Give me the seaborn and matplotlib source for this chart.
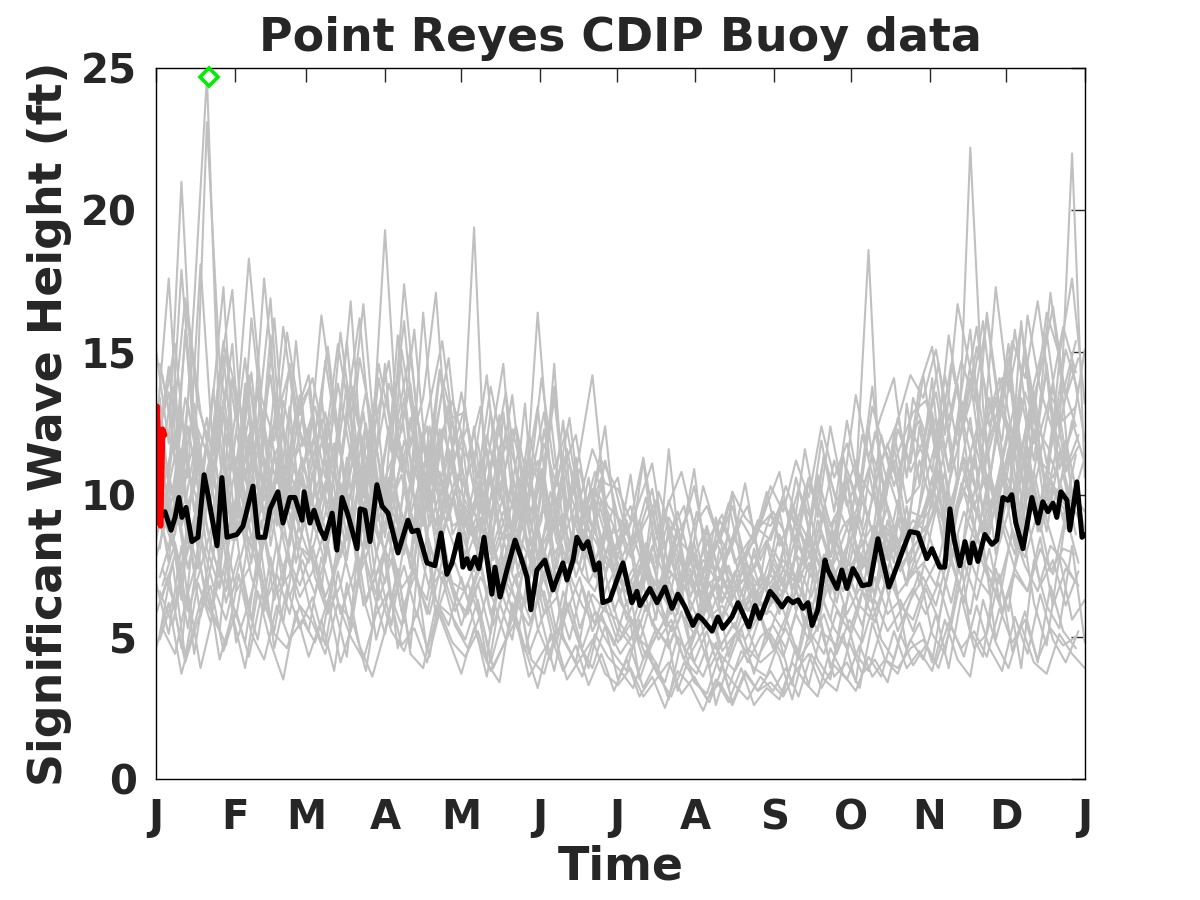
"""
Point Reyes CDIP buoy – significant wave height, all years overlaid
"""

import numpy as np
import pandas as pd
import matplotlib
matplotlib.use("Agg")
import matplotlib.pyplot as plt
import seaborn as sns

# ── Data ───────────────────────────────────────────────────
# gray traces: one per year, sampled every 5 days
# set A starts on day 0, set B on day 2.5, set C on day 1.5
year_01 = [11.2, 14.5, 9.8, 16.8, 24.7, 12.1, 8.4, 13.9, 10.2, 15.6, 9.1, 12.8,
           14.2, 10.5, 8.7, 13.1, 16.2, 11.4, 9.3, 12.7, 15.1, 10.8, 8.9, 11.6,
           9.2, 12.4, 8.1, 10.7, 13.5, 9.4, 7.2, 10.1, 8.6, 11.3, 7.9, 9.8,
           7.4, 8.9, 6.2, 9.6, 7.1, 5.8, 8.3, 6.6, 9.2, 7.0, 5.9, 8.1,
           6.8, 9.4, 7.3, 10.2, 8.1, 6.5, 11.4, 8.8, 12.3, 9.1, 7.6, 13.2,
           10.4, 14.1, 9.2, 12.7, 15.8, 10.9, 13.4, 9.6, 16.1, 11.8, 14.3, 10.2,
           12.6, 11.1]
year_02 = [5.8, 7.2, 4.6, 8.9, 6.1, 5.2, 9.7, 6.4, 4.9, 7.8, 5.5, 8.3,
           6.2, 4.8, 7.5, 10.1, 6.8, 5.3, 8.2, 4.6, 6.9, 9.4, 5.7, 7.1,
           5.4, 6.8, 4.2, 7.6, 5.9, 4.5, 6.3, 8.1, 5.0, 4.1, 6.6, 5.2,
           4.4, 3.8, 5.6, 4.1, 3.4, 5.0, 4.3, 3.6, 4.8, 3.2, 4.5, 3.9,
           3.6, 4.9, 3.3, 5.7, 4.2, 3.5, 6.1, 4.4, 3.8, 5.3, 7.2, 4.6,
           5.5, 4.1, 6.8, 8.6, 5.2, 4.3, 7.4, 5.9, 9.1, 6.2, 4.7, 7.8,
           5.6, 6.3]
year_03 = [8.4, 10.6, 17.9, 12.3, 8.8, 7.1, 11.5, 9.3, 13.8, 8.2, 10.9, 7.6,
           9.8, 12.6, 8.1, 11.3, 7.4, 10.2, 14.6, 9.1, 7.8, 11.9, 8.6, 10.4,
           12.2, 8.3, 9.7, 7.1, 10.8, 8.5, 6.4, 9.2, 12.6, 7.8, 8.9, 6.7,
           8.2, 6.1, 7.5, 5.4, 6.8, 8.7, 5.9, 7.2, 5.1, 6.4, 7.9, 5.6,
           7.1, 5.8, 8.6, 6.3, 5.2, 7.7, 6.6, 9.3, 7.4, 10.8, 8.2, 6.9,
           9.6, 12.8, 8.4, 10.7, 22.2, 13.1, 9.2, 11.6, 8.7, 12.9, 10.1, 14.7,
           9.8, 11.3]
year_04 = [13.2, 9.1, 7.4, 10.8, 23.1, 14.6, 11.2, 8.3, 12.5, 16.9, 10.4, 9.2,
           7.9, 10.7, 13.4, 9.6, 8.2, 11.8, 19.3, 12.1, 9.4, 7.7, 10.6, 13.2,
           8.4, 10.3, 11.6, 8.9, 7.3, 9.8, 16.4, 10.7, 7.6, 9.1, 8.2, 10.4,
           6.9, 7.8, 9.1, 6.3, 7.4, 6.1, 8.2, 5.7, 6.8, 7.5, 6.2, 5.8,
           8.3, 6.4, 7.2, 9.8, 5.9, 8.7, 7.1, 10.3, 18.6, 9.4, 11.2, 8.1,
           12.4, 9.8, 11.5, 13.9, 10.2, 8.6, 12.1, 15.3, 10.8, 13.6, 11.1, 12.8,
           10.1, 9.4]
year_05 = [6.9, 5.1, 8.2, 4.4, 7.3, 10.6, 6.2, 4.8, 7.9, 5.6, 9.1, 6.4,
           5.2, 7.8, 6.1, 4.3, 8.6, 6.7, 5.1, 7.3, 4.6, 9.8, 6.3, 5.4,
           7.1, 5.5, 3.6, 6.2, 4.9, 7.8, 5.3, 4.2, 6.6, 5.1, 3.9, 5.8,
           4.7, 6.3, 3.5, 4.8, 5.6, 3.1, 4.4, 5.2, 2.6, 4.1, 5.3, 3.7,
           5.2, 4.3, 2.8, 4.6, 6.2, 3.9, 5.1, 3.4, 6.8, 4.9, 4.2, 5.9,
           7.3, 5.1, 4.4, 6.9, 5.8, 8.4, 4.9, 6.6, 3.9, 7.7, 6.1, 5.3,
           8.2, 4.8]
year_06 = [15.1, 11.8, 21.0, 12.4, 9.6, 14.3, 17.2, 10.5, 13.7, 11.2, 15.9, 12.6,
           11.4, 16.3, 13.1, 10.2, 14.8, 12.5, 9.9, 15.6, 11.8, 13.4, 17.1, 10.9,
           13.6, 11.1, 14.2, 9.8, 12.3, 10.4, 13.1, 8.7, 10.9, 12.1, 9.3, 11.2,
           10.4, 8.6, 9.8, 11.1, 8.2, 9.4, 7.6, 10.3, 8.8, 7.9, 9.1, 8.3,
           9.6, 10.8, 8.4, 11.6, 9.2, 12.4, 10.1, 13.5, 11.3, 12.8, 14.1, 10.6,
           13.8, 15.2, 12.1, 16.7, 14.4, 11.9, 17.3, 13.6, 15.9, 12.8, 16.4, 14.9,
           17.6, 13.2]
year_07 = [7.8, 9.4, 6.3, 11.2, 8.1, 6.7, 8.9, 12.4, 7.2, 9.6, 6.8, 10.3,
           8.4, 6.6, 10.9, 7.7, 12.2, 8.5, 6.9, 9.8, 7.4, 11.1, 8.2, 7.1,
           9.3, 6.8, 8.1, 11.4, 7.2, 6.1, 8.7, 7.4, 5.6, 9.4, 6.9, 7.8,
           5.9, 7.1, 4.8, 6.4, 5.5, 7.8, 4.6, 5.9, 6.8, 4.3, 5.7, 6.6,
           4.9, 6.1, 7.4, 5.3, 8.2, 6.4, 5.6, 7.9, 6.3, 8.8, 7.1, 9.6,
           6.8, 8.9, 10.8, 7.3, 9.4, 11.6, 7.9, 10.2, 8.4, 12.3, 9.1, 7.6,
           10.8, 8.7]
year_08 = [10.3, 7.6, 12.9, 9.4, 11.7, 8.3, 14.1, 10.6, 8.8, 12.2, 9.7, 15.4,
           10.9, 13.5, 9.2, 12.8, 10.1, 8.6, 11.4, 14.2, 10.3, 8.9, 12.6, 9.5,
           10.8, 19.4, 9.1, 11.7, 8.4, 10.3, 7.7, 9.6, 11.4, 8.2, 10.6, 7.4,
           8.9, 7.2, 6.4, 8.1, 9.3, 6.8, 7.7, 6.1, 8.4, 7.3, 6.5, 7.9,
           6.7, 8.6, 7.4, 6.2, 9.1, 7.8, 10.4, 8.3, 7.2, 9.9, 11.7, 8.8,
           11.2, 9.6, 13.1, 10.4, 12.7, 9.3, 11.8, 14.4, 10.7, 13.2, 9.9, 12.1,
           22.0, 10.6]
year_09 = [4.6, 6.2, 3.7, 5.4, 7.1, 4.2, 5.8, 3.9, 6.6, 4.8, 3.5, 5.9,
           4.3, 5.6, 3.8, 6.9, 4.7, 3.6, 5.2, 7.4, 4.4, 3.9, 6.1, 4.9,
           3.7, 5.3, 4.1, 3.4, 6.2, 4.6, 3.2, 5.1, 3.8, 4.7, 3.3, 4.4,
           3.1, 4.2, 2.9, 3.6, 2.5, 3.8, 3.3, 2.4, 3.5, 2.7, 3.9, 2.6,
           3.2, 2.8, 4.1, 3.4, 2.9, 4.6, 3.7, 3.1, 4.3, 3.6, 5.2, 3.9,
           4.5, 3.8, 5.6, 4.2, 3.6, 6.3, 4.8, 3.9, 5.4, 4.1, 3.7, 5.1,
           4.4, 3.9]
year_10 = [12.1, 17.6, 10.4, 13.2, 9.7, 11.9, 15.3, 9.1, 11.6, 14.2, 10.3, 12.9,
           13.7, 9.9, 11.2, 15.4, 10.6, 12.8, 9.4, 11.7, 13.9, 10.2, 12.4, 14.8,
           10.6, 9.3, 12.1, 10.2, 8.6, 11.3, 9.4, 12.8, 8.9, 10.4, 9.1, 8.2,
           9.6, 7.9, 8.7, 10.2, 7.4, 8.6, 9.5, 7.2, 8.1, 9.7, 7.6, 8.4,
           10.1, 8.2, 9.3, 7.6, 10.7, 8.9, 9.8, 11.2, 9.1, 12.1, 10.3, 11.8,
           12.6, 10.8, 14.2, 11.7, 13.3, 16.1, 12.2, 14.8, 11.4, 13.9, 15.7, 12.3,
           14.6, 11.9]
year_11 = [9.4, 8.1, 11.6, 7.3, 10.2, 13.1, 8.6, 10.9, 7.7, 9.8, 12.3, 8.4,
           7.6, 9.2, 11.8, 8.4, 10.5, 7.1, 9.6, 8.3, 12.7, 9.1, 7.5, 10.8,
           8.7, 7.3, 10.1, 6.8, 8.9, 13.2, 7.6, 6.4, 9.3, 7.1, 8.5, 6.3,
           7.3, 5.6, 6.8, 7.9, 5.4, 6.6, 7.4, 5.2, 6.3, 7.1, 5.8, 6.7,
           5.8, 7.2, 6.1, 8.4, 6.9, 5.6, 7.8, 6.5, 9.2, 7.4, 8.6, 6.8,
           8.3, 10.6, 7.9, 9.8, 11.3, 8.6, 10.2, 12.4, 9.1, 10.8, 8.7, 11.5,
           9.6, 8.8]
year_12 = [11.8, 13.6, 8.9, 10.4, 12.7, 9.3, 11.1, 14.8, 10.2, 8.7, 13.3, 11.4,
           12.3, 8.8, 10.6, 13.9, 9.7, 11.4, 8.5, 12.1, 10.3, 16.4, 11.2, 9.1,
           11.1, 8.6, 10.3, 12.8, 8.1, 9.6, 11.2, 8.4, 10.1, 7.6, 9.3, 10.6,
           7.8, 9.1, 6.7, 8.2, 7.1, 8.9, 6.4, 7.7, 7.3, 8.6, 6.9, 7.5,
           8.4, 7.3, 9.6, 8.1, 10.6, 7.8, 8.9, 9.4, 10.9, 8.6, 12.2, 9.7,
           10.3, 12.9, 9.8, 11.6, 14.1, 10.7, 12.5, 9.6, 13.4, 11.2, 14.6, 10.9,
           12.3, 15.1]
year_13 = [10.8, 8.6, 12.4, 9.9, 13.7, 9.2, 11.5, 8.4, 10.7, 12.9, 9.5, 11.3,
           9.4, 11.8, 8.7, 10.3, 12.5, 9.1, 10.8, 13.4, 8.9, 10.6, 9.7, 12.2,
           8.6, 10.4, 7.9, 9.3, 11.6, 8.2, 9.7, 7.4, 10.1, 8.8, 7.6, 9.2,
           7.1, 6.4, 8.3, 6.9, 5.8, 7.6, 6.5, 8.1, 6.2, 7.3, 5.9, 6.8,
           7.4, 6.6, 8.2, 7.1, 9.4, 7.8, 6.9, 8.6, 10.1, 7.7, 9.2, 8.4,
           9.7, 11.4, 8.8, 10.6, 12.3, 9.4, 11.1, 13.2, 10.2, 9.1, 12.6, 10.8,
           11.7]
year_14 = [6.8, 8.3, 5.9, 7.4, 9.1, 6.2, 7.9, 5.6, 8.7, 6.5, 7.2, 9.6,
           7.1, 5.8, 8.4, 6.6, 7.8, 9.3, 6.1, 7.5, 5.7, 8.2, 6.9, 7.6,
           6.3, 7.7, 5.4, 6.8, 8.5, 5.9, 6.6, 4.8, 7.2, 6.1, 5.5, 6.9,
           5.2, 4.6, 6.1, 4.9, 5.6, 4.2, 5.4, 6.3, 4.5, 5.1, 4.4, 5.8,
           4.6, 5.7, 4.3, 6.2, 5.1, 4.7, 6.6, 5.4, 7.1, 5.8, 6.3, 5.2,
           6.7, 5.6, 7.8, 6.2, 8.6, 7.1, 5.9, 7.4, 9.2, 6.8, 7.7, 6.1,
           7.3]
year_15 = [9.2, 11.4, 8.3, 10.1, 7.8, 12.6, 9.5, 8.1, 10.8, 9.3, 13.1, 8.9,
           10.2, 8.4, 9.7, 11.9, 8.1, 10.4, 9.2, 7.9, 11.3, 9.6, 8.5, 10.1,
           9.1, 7.6, 8.8, 10.2, 7.1, 8.4, 9.5, 6.9, 8.1, 7.3, 9.2, 7.7,
           6.6, 7.4, 5.9, 6.8, 7.7, 6.1, 5.5, 6.9, 7.2, 5.8, 6.4, 7.1,
           6.2, 7.3, 6.8, 5.9, 7.6, 8.3, 6.7, 7.9, 6.4, 8.7, 7.5, 8.1,
           8.9, 7.6, 9.8, 11.2, 8.4, 9.6, 10.7, 8.2, 11.5, 9.3, 10.4, 8.8,
           9.9]
year_16 = [12.7, 15.3, 10.6, 18.1, 11.4, 13.8, 9.9, 16.2, 12.1, 10.4, 14.6, 11.7,
           13.1, 10.8, 15.7, 12.2, 9.8, 14.1, 11.5, 17.4, 12.8, 10.6, 13.7, 11.3,
           12.4, 9.7, 11.2, 13.6, 10.1, 8.9, 12.3, 9.6, 11.1, 8.4, 10.2, 9.4,
           8.3, 9.2, 7.6, 10.1, 8.7, 7.3, 9.4, 8.1, 7.2, 8.8, 9.6, 7.7,
           8.8, 10.3, 9.1, 8.2, 11.4, 9.7, 8.6, 12.1, 10.4, 11.8, 9.9, 13.4,
           12.1, 14.6, 11.3, 13.2, 15.9, 12.4, 14.1, 11.6, 16.3, 13.7, 12.2, 15.1,
           13.6]
year_17 = [5.3, 4.4, 6.6, 3.9, 5.8, 4.7, 7.2, 5.1, 4.2, 6.1, 4.9, 5.6,
           4.8, 6.3, 4.1, 5.5, 3.8, 6.7, 5.2, 4.5, 5.9, 4.3, 7.1, 5.4,
           4.6, 5.8, 3.9, 4.9, 6.4, 4.2, 3.7, 5.3, 4.5, 3.6, 5.1, 4.3,
           3.8, 3.2, 4.5, 3.6, 2.9, 4.1, 3.4, 2.7, 3.9, 3.3, 2.8, 3.6,
           3.1, 3.9, 2.9, 4.4, 3.5, 3.1, 4.8, 3.7, 4.2, 3.4, 5.1, 4.0,
           4.7, 3.9, 5.4, 4.3, 6.1, 4.6, 3.8, 5.7, 4.4, 6.5, 4.9, 4.1,
           5.2]
year_18 = [8.7, 10.2, 7.4, 9.5, 11.8, 8.3, 9.9, 7.6, 12.3, 9.1, 8.2, 10.7,
           8.9, 10.6, 7.8, 9.3, 11.1, 8.5, 7.6, 10.2, 8.7, 12.4, 9.4, 8.1,
           7.9, 9.2, 6.8, 8.6, 7.4, 10.3, 7.7, 6.5, 8.4, 7.2, 6.6, 8.1,
           6.2, 5.5, 7.1, 6.3, 5.2, 6.7, 7.6, 5.7, 6.1, 5.3, 6.9, 5.8,
           6.9, 5.7, 7.5, 6.4, 7.9, 6.2, 8.5, 7.1, 6.6, 9.1, 7.3, 8.2,
           8.6, 10.1, 7.8, 9.4, 8.3, 10.8, 9.2, 7.9, 11.1, 8.7, 10.3, 9.6,
           10.4]
year_19 = [11.3, 9.6, 13.2, 10.4, 8.9, 12.1, 10.7, 14.3, 9.8, 11.6, 10.1, 12.8,
           10.9, 12.7, 9.5, 11.2, 13.6, 10.3, 9.2, 11.9, 10.6, 9.4, 12.3, 10.8,
           10.1, 8.7, 11.4, 9.2, 8.3, 10.6, 12.9, 8.8, 9.7, 8.1, 10.2, 8.6,
           7.7, 8.6, 7.1, 6.5, 8.2, 7.4, 6.8, 7.9, 6.3, 7.2, 8.1, 6.7,
           8.1, 7.2, 8.9, 7.7, 9.6, 8.3, 7.5, 9.8, 8.4, 10.7, 9.3, 8.6,
           10.5, 12.2, 9.6, 11.3, 10.1, 13.4, 11.1, 9.9, 12.7, 11.4, 13.8, 10.9,
           12.1]
year_20 = [7.4, 6.1, 8.8, 5.7, 7.9, 6.6, 9.4, 7.1, 5.9, 8.3, 6.4, 7.7,
           6.5, 8.1, 5.8, 7.2, 9.6, 6.3, 7.7, 5.5, 8.4, 6.7, 7.3, 5.9,
           6.9, 5.6, 7.5, 6.1, 5.2, 7.9, 5.8, 6.4, 4.9, 6.8, 5.4, 6.2,
           4.9, 5.6, 4.3, 5.2, 6.1, 4.6, 5.3, 3.9, 4.8, 5.5, 4.1, 5.0,
           5.4, 4.6, 6.2, 5.1, 4.4, 5.9, 5.2, 6.6, 5.5, 7.2, 6.1, 5.6,
           6.9, 7.8, 6.2, 8.3, 7.1, 6.5, 8.9, 7.4, 6.6, 8.1, 7.2, 9.3,
           7.6]
year_21 = [9.8, 8.7, 10.9, 9.4, 11.7, 8.5, 10.2, 12.4, 9.1, 10.6, 8.8, 11.2,
           9.3, 10.7, 8.6, 11.4, 9.8, 8.4, 10.5, 9.1, 11.8, 8.9, 10.3, 9.6,
           8.4, 9.6, 7.7, 8.9, 10.5, 7.3, 8.6, 9.8, 7.5, 8.3, 7.1, 8.8,
           6.9, 6.2, 7.5, 6.7, 5.9, 7.3, 6.4, 6.9, 5.6, 6.6, 7.2, 6.1,
           6.5, 7.6, 6.9, 8.1, 7.2, 6.6, 8.4, 7.5, 8.9, 7.8, 8.3, 9.1,
           8.7, 9.9, 8.2, 10.6, 9.3, 8.6, 10.9, 9.5, 11.7, 8.9, 10.1, 9.4,
           10.3]
year_22 = [14.2, 11.6, 16.4, 12.9, 10.8, 15.1, 13.3, 11.2, 17.6, 12.7, 14.4, 10.9,
           12.1, 15.2, 11.4, 13.8, 10.7, 14.6, 12.3, 16.1, 11.1, 13.2, 15.4, 11.9,
           11.3, 13.1, 9.8, 12.2, 10.6, 9.4, 11.8, 10.3, 12.7, 9.1, 10.8, 9.6,
           9.1, 8.2, 9.9, 7.8, 8.7, 9.6, 7.4, 8.5, 9.3, 7.6, 8.3, 8.9,
           9.4, 8.6, 10.2, 9.1, 11.3, 9.8, 10.6, 8.9, 12.2, 10.4, 11.7, 12.9,
           13.3, 11.8, 14.6, 12.5, 15.2, 13.1, 11.9, 15.8, 12.6, 14.3, 16.6, 13.4,
           14.8]
year_23 = [6.4, 7.9, 5.3, 8.6, 6.8, 5.6, 7.5, 9.3, 6.1, 7.2, 5.8, 8.1,
           7.6, 5.9, 6.8, 8.9, 6.2, 7.4, 5.4, 8.3, 6.9, 5.8, 7.7, 6.4,
           5.8, 7.1, 6.3, 4.9, 6.7, 5.5, 7.3, 5.1, 6.2, 4.6, 5.9, 5.3,
           4.4, 5.1, 4.7, 3.9, 5.4, 4.2, 3.7, 4.9, 4.3, 3.8, 4.6, 4.1,
           4.5, 5.3, 4.2, 4.9, 5.8, 4.4, 5.6, 4.8, 6.3, 5.2, 5.9, 6.7,
           5.8, 6.9, 5.4, 7.6, 6.3, 8.1, 5.9, 7.2, 6.6, 8.5, 6.1, 7.4,
           6.8]
year_24 = [10.1, 12.2, 9.4, 11.1, 8.6, 10.5, 13.6, 9.7, 11.3, 8.9, 10.8, 9.5,
           11.6, 9.2, 10.4, 8.8, 12.3, 9.9, 11.2, 8.5, 10.1, 11.7, 9.1, 10.5,
           9.6, 8.1, 10.3, 8.7, 9.4, 7.8, 10.6, 8.3, 7.6, 9.1, 8.4, 7.5,
           7.3, 6.6, 7.9, 6.1, 7.2, 6.8, 5.7, 7.4, 6.6, 5.9, 7.1, 6.3,
           7.6, 6.8, 7.2, 8.5, 6.9, 7.8, 9.1, 7.4, 8.2, 9.6, 8.1, 8.8,
           9.5, 10.8, 8.9, 10.1, 11.6, 9.7, 10.4, 12.1, 9.3, 11.2, 10.6, 11.9,
           9.8]
year_25 = [13.4, 8.9, 15.8, 10.2, 12.6, 17.3, 9.8, 14.1, 11.3, 16.2, 10.7, 13.5,
           9.6, 14.7, 11.9, 16.8, 10.4, 13.2, 8.8, 15.1, 12.4, 9.9, 14.3, 11.6,
           13.1, 9.4, 11.8, 14.6, 8.9, 12.2, 10.1, 13.4, 9.3, 11.5, 14.2, 9.8,
           10.6, 8.1, 11.2, 7.6, 9.8, 8.4, 10.9, 7.3, 9.1, 8.2, 10.4, 7.9,
           9.3, 8.1, 10.6, 8.8, 11.9, 9.4, 12.6, 10.2, 13.8, 9.7, 12.3, 11.1,
           14.2, 11.3, 15.6, 12.8, 10.9, 16.4, 13.1, 11.7, 15.2, 12.4, 17.1, 13.6,
           15.4]
year_26 = [5.1, 7.6, 4.3, 6.9, 5.5, 8.4, 4.8, 6.2, 7.9, 4.6, 6.7, 5.3,
           6.4, 4.7, 7.3, 5.2, 8.1, 4.9, 6.6, 5.4, 7.8, 4.5, 6.1, 5.7,
           4.9, 6.3, 4.1, 5.7, 7.2, 4.4, 5.6, 3.8, 6.1, 4.7, 3.9, 5.4,
           3.5, 4.6, 3.2, 4.1, 2.8, 4.9, 3.4, 3.0, 4.4, 2.7, 3.8, 3.1,
           3.8, 3.0, 4.7, 3.3, 5.2, 3.6, 4.1, 3.2, 5.5, 4.2, 3.7, 4.9,
           4.2, 5.8, 3.9, 6.4, 4.6, 5.1, 7.2, 4.5, 5.9, 4.1, 6.8, 5.2,
           4.6]
year_27 = [8.1, 11.7, 9.2, 7.4, 10.6, 12.8, 8.7, 10.1, 7.9, 11.4, 9.6, 8.3,
           10.8, 7.9, 12.1, 9.3, 8.1, 11.6, 9.7, 8.6, 10.9, 12.4, 8.4, 9.9,
           7.8, 10.4, 8.5, 7.1, 9.8, 11.3, 7.6, 9.1, 6.9, 8.7, 10.2, 7.3,
           8.4, 6.2, 7.7, 5.6, 8.9, 6.6, 7.3, 5.9, 8.1, 6.4, 7.5, 5.7,
           6.4, 8.1, 5.9, 7.6, 6.8, 9.2, 7.3, 6.1, 8.4, 7.7, 9.8, 7.1,
           8.1, 10.9, 9.3, 7.8, 11.4, 8.6, 10.1, 12.2, 8.9, 11.6, 9.4, 10.7,
           8.6]
year_28 = [10.9, 13.8, 9.7, 12.3, 11.1, 14.9, 10.3, 12.7, 9.4, 13.6, 11.8, 10.2,
           12.8, 10.6, 13.9, 11.4, 9.9, 12.6, 14.7, 10.8, 12.1, 9.7, 11.9, 13.3,
           11.7, 9.5, 12.9, 10.6, 9.2, 11.4, 10.1, 13.8, 9.6, 10.9, 8.8, 11.2,
           9.2, 7.8, 8.9, 9.8, 7.4, 8.6, 10.3, 7.9, 8.4, 9.6, 7.7, 8.8,
           8.4, 9.7, 8.9, 10.6, 9.3, 8.1, 10.9, 9.6, 11.4, 10.2, 12.7, 10.8,
           11.9, 13.6, 10.8, 12.9, 14.3, 11.6, 13.2, 12.1, 14.8, 11.9, 13.5, 12.6,
           13.1]
year_29 = [6.6, 5.4, 7.7, 9.2, 6.1, 7.3, 5.7, 8.5, 6.9, 5.2, 7.8, 6.4,
           7.3, 8.8, 6.2, 5.6, 7.9, 6.5, 8.7, 5.9, 7.1, 6.3, 9.1, 6.8,
           5.7, 6.9, 5.1, 7.8, 6.2, 5.4, 6.7, 4.7, 5.9, 7.1, 5.2, 6.1,
           4.8, 5.7, 4.2, 5.3, 4.6, 5.9, 4.1, 5.2, 3.8, 4.9, 5.5, 4.3,
           5.1, 4.3, 5.8, 4.9, 6.4, 5.3, 4.6, 6.1, 5.6, 6.9, 5.2, 6.3,
           7.1, 6.1, 7.9, 6.5, 8.4, 7.2, 6.3, 8.8, 7.5, 6.6, 8.2, 7.7,
           6.9]
year_30 = [9.6, 8.2, 10.8, 12.1, 9.1, 11.3, 8.4, 10.5, 12.7, 9.3, 10.9, 8.7,
           9.8, 11.2, 8.6, 10.1, 12.9, 9.2, 10.6, 8.3, 11.4, 9.5, 10.8, 8.9,
           9.2, 8.1, 10.7, 7.6, 9.4, 8.3, 10.9, 7.9, 8.8, 10.1, 7.4, 8.6,
           7.6, 6.9, 8.1, 6.3, 7.4, 6.7, 8.3, 6.1, 7.1, 6.6, 7.8, 6.4,
           7.2, 6.5, 7.9, 7.3, 8.6, 7.1, 8.2, 9.1, 7.6, 8.9, 8.3, 9.4,
           9.2, 10.4, 8.7, 11.1, 9.6, 10.7, 9.1, 11.8, 10.2, 9.4, 11.3, 10.1,
           9.7]
year_31 = [14.6, 12.3, 16.9, 13.1, 11.7, 15.4, 12.6, 18.3, 13.4, 11.9, 15.7, 12.8,
           14.1, 11.8, 15.3, 12.6, 16.7, 11.4, 13.9, 12.2, 15.8, 10.9, 14.4, 12.7,
           12.9, 10.6, 13.8, 11.5, 12.4, 10.2, 14.1, 10.9, 12.3, 9.8, 11.6, 10.4,
           10.2, 9.1, 11.3, 8.6, 9.7, 10.8, 8.9, 9.6, 8.3, 10.1, 9.2, 8.7,
           10.3, 9.4, 11.2, 9.9, 12.4, 10.6, 11.8, 10.1, 13.1, 11.5, 12.6, 14.2,
           13.4, 15.1, 12.6, 14.7, 13.3, 16.2, 12.9, 15.4, 14.1, 16.8, 13.5, 15.9,
           14.3]
year_32 = [4.9, 6.3, 4.1, 5.6, 6.8, 4.5, 5.9, 4.3, 6.5, 5.1, 4.6, 6.1,
           5.5, 4.4, 6.2, 5.0, 4.2, 5.8, 6.6, 4.7, 5.3, 4.1, 5.9, 4.8,
           4.3, 5.2, 3.8, 4.7, 5.6, 3.6, 4.4, 5.1, 3.5, 4.2, 4.9, 3.7,
           3.3, 3.9, 2.9, 3.5, 4.1, 3.0, 3.6, 2.8, 3.4, 2.6, 3.7, 3.1,
           3.4, 2.9, 3.8, 4.4, 3.2, 4.0, 3.5, 4.7, 3.6, 4.2, 3.9, 4.6,
           4.9, 4.1, 5.5, 4.6, 5.2, 4.3, 6.0, 4.8, 5.6, 4.2, 5.3, 4.7,
           5.0]
year_33 = [12.2, 10.1, 13.4, 11.6, 9.8, 12.9, 11.1, 14.2, 10.4, 12.6, 9.9, 13.1,
           11.3, 12.9, 10.2, 13.6, 11.7, 9.6, 12.4, 10.9, 13.1, 11.2, 10.3, 12.6,
           10.4, 11.8, 9.3, 10.7, 12.3, 9.1, 10.5, 8.8, 11.6, 9.4, 10.1, 8.6,
           8.7, 9.6, 8.1, 7.4, 9.2, 8.3, 7.8, 8.9, 7.2, 8.5, 7.9, 9.1,
           8.9, 9.8, 8.3, 10.4, 9.1, 11.2, 9.6, 10.7, 9.9, 11.6, 10.5, 12.3,
           11.4, 12.7, 10.9, 13.3, 11.8, 12.5, 14.1, 11.2, 13.6, 12.3, 11.5, 13.9,
           12.4]
year_34 = [7.1, 8.6, 6.2, 7.8, 5.9, 8.9, 6.6, 7.4, 9.1, 6.3, 7.9, 6.8,
           8.2, 6.4, 7.6, 9.3, 6.1, 7.2, 8.5, 6.7, 7.4, 5.8, 8.1, 6.9,
           6.6, 7.9, 5.8, 7.1, 6.3, 8.2, 5.6, 6.8, 7.4, 5.3, 6.5, 5.9,
           5.6, 4.9, 6.2, 5.3, 4.7, 5.8, 5.1, 6.4, 4.6, 5.4, 4.9, 5.7,
           5.9, 5.2, 6.6, 5.7, 6.1, 7.3, 5.8, 6.7, 6.2, 7.6, 6.5, 7.1,
           7.6, 6.8, 8.4, 7.1, 8.9, 7.5, 6.9, 8.6, 7.8, 9.4, 7.3, 8.1,
           7.9]
year_35 = [10.4, 9.1, 11.9, 8.6, 10.7, 9.4, 12.2, 10.1, 8.8, 11.5, 9.7, 10.9,
           8.9, 10.3, 9.4, 11.7, 8.7, 10.1, 9.3, 11.2, 8.4, 10.6, 9.1, 11.4,
           8.9, 10.1, 7.9, 9.4, 8.4, 10.8, 8.1, 9.2, 7.6, 8.7, 9.8, 7.9,
           7.2, 6.6, 7.8, 6.2, 7.3, 6.9, 7.9, 6.4, 7.1, 6.3, 7.6, 6.8,
           6.9, 7.7, 7.1, 8.3, 7.5, 8.7, 7.2, 8.1, 8.9, 7.8, 9.2, 8.5,
           9.1, 9.8, 8.4, 10.3, 9.5, 8.8, 10.6, 9.7, 11.2, 9.3, 10.4, 9.9,
           10.2]
year_36 = [8.9, 10.3, 7.7, 9.6, 11.4, 8.5, 9.2, 12.1, 8.1, 9.9, 7.8, 10.6,
           9.1, 7.6, 10.4, 8.8, 11.2, 7.9, 9.5, 10.7, 8.3, 9.8, 12.3, 8.6,
           9.6, 8.3, 7.4, 12.9, 8.7, 7.8, 9.1, 14.6, 8.2, 7.5, 9.9, 12.4,
           8.1, 10.7, 7.3, 6.8, 11.6, 7.5, 6.6, 8.8, 6.2, 10.1, 6.9, 7.6,
           6.1, 7.4, 6.6, 8.9, 6.3, 7.9, 10.6, 7.2, 8.4, 6.8, 9.1, 7.6,
           8.4, 9.6, 7.7, 10.4, 8.8, 11.5, 8.3, 9.9, 12.2, 8.7, 10.6, 9.2,
           11.4]
gray_set_a = [year_01, year_02, year_03, year_04, year_05, year_06,
              year_07, year_08, year_09, year_10, year_11, year_12]
gray_set_b = [year_13, year_14, year_15, year_16, year_17, year_18,
              year_19, year_20, year_21, year_22, year_23, year_24]
gray_set_c = [year_25, year_26, year_27, year_28, year_29, year_30,
              year_31, year_32, year_33, year_34, year_35, year_36]
SAMPLE_STEP = 5

# black: multi-year daily mean (day of year, ft)
mean_day = [0, 1, 3.5, 5.9, 7.5, 9, 10.2, 11.8, 14.1, 16.5, 18.9, 20.4, 24, 25.9,
            27.9, 31.8, 34.2, 38.1, 40.1, 42.8, 44.8, 47.9, 49.9, 52.6, 54.6,
            57.4, 58.2, 60.5, 62.1, 64.4, 66.4, 69.2, 71.1, 73.1, 75.4, 79,
            80.2, 82.1, 84.1, 86.8, 88.8, 91.2, 95.1, 99, 100.6, 102.9, 106.5,
            109.6, 112, 114.3, 116.3, 119.1, 120.6, 122.2, 123.4, 125.3, 126.9,
            128.9, 132, 133.2, 135.2, 137.9, 141.1, 143.4, 145.8, 147.3, 149.7,
            152.8, 156, 159.9, 161.5, 163.9, 165.4, 167.8, 169.7, 172.5, 174.1,
            175.6, 178.4, 183.5, 187, 189, 190.2, 194.1, 196.9, 200, 202.8,
            205.1, 207.9, 211, 213, 214.9, 218.5, 220.8, 222.8, 226.3, 228.7,
            233, 235.4, 237.3, 241.3, 243.2, 246, 248.3, 250.3, 252.3, 254.2,
            256.2, 257.8, 260.1, 262.9, 264, 267.6, 269.5, 271.5, 273.9, 275.8,
            277.4, 280.5, 283.7, 288, 289.6, 293.5, 296.3, 299.4, 302.9, 304.9,
            308, 310, 312, 313.6, 315.9, 317.9, 319.8, 321, 323, 325.7, 328.5,
            330.4, 332.8, 334.8, 336.3, 337.9, 340.7, 344.2, 346.6, 348.5,
            350.5, 352.5, 354, 355.6, 358, 359.1, 361.9, 363.9, 365]
mean_hs = [9.0, 9.1, 9.4, 8.75, 9.2, 9.9, 9.2, 9.55, 8.35, 8.5, 10.7, 10.0, 8.2, 10.6,
           8.5, 8.6, 8.9, 10.3, 8.5, 8.5, 9.5, 10.1, 9.0, 9.9, 9.9,
           9.1, 10.1, 9.0, 9.45, 8.8, 8.45, 9.35, 8.05, 9.9, 9.3, 8.1,
           9.5, 9.45, 8.35, 10.35, 9.6, 9.35, 7.95, 9.1, 8.7, 8.75, 7.6,
           7.5, 8.65, 7.2, 7.6, 8.6, 7.45, 7.75, 7.4, 7.8, 7.4,
           8.5, 6.5, 7.45, 6.4, 7.35, 8.4, 7.8, 7.1, 5.95, 7.35,
           7.7, 6.65, 7.6, 7.0, 7.7, 8.5, 8.1, 8.35, 7.35, 7.6,
           6.2, 6.3, 7.6, 6.2, 6.6, 6.1, 6.7, 6.2, 6.75, 6.0,
           6.5, 6.05, 5.4, 5.75, 5.6, 5.2, 5.7, 5.3, 5.7, 6.2,
           5.35, 6.1, 5.65, 6.6, 6.4, 6.05, 6.35, 6.2, 6.3, 6.0,
           6.2, 5.4, 5.95, 7.7, 7.35, 6.7, 7.35, 6.7, 7.4, 7.1,
           6.8, 6.85, 8.45, 6.75, 7.1, 8.05, 8.7, 8.65, 7.75, 8.1,
           7.45, 7.45, 9.5, 8.45, 7.5, 8.35, 7.6, 8.3, 7.65, 8.6, 8.25,
           8.4, 9.9, 9.8, 10.0, 9.0, 8.1, 9.9, 9.0, 9.75,
           9.4, 9.7, 9.2, 10.1, 9.8, 8.75, 10.45, 8.5, 8.6]

# red: current year so far
now_day = [0, 0.5, 1.8, 2.6, 3.4]
now_hs = [9.0, 13.1, 8.9, 12.3, 12.1]

# green: record maximum
max_day = [20.8]
max_hs = [24.7]

month_start = [0, 31, 59, 90, 120, 151, 181, 212, 243, 273, 304, 334, 365]
month_labels = ["J", "F", "M", "A", "M", "J", "J", "A", "S", "O", "N", "D", "J"]

# ── Styling ────────────────────────────────────────────────
sns.set_theme(style="white")
plt.rcParams.update({
    "font.family": ["DejaVu Sans"],
    "font.weight": "bold",
    "axes.labelweight": "bold",
    "axes.titleweight": "bold",
    "text.color": "#262626",
    "axes.labelcolor": "#262626",
    "xtick.color": "#262626",
    "ytick.color": "#262626",
})
GRAY = "#c0c0c0"

rows = []
yr = 0
for offset, group in [(0.0, gray_set_a), (2.5, gray_set_b), (1.5, gray_set_c)]:
    for hs in group:
        for i, v in enumerate(hs):
            rows.append({"year": yr, "day": offset + i * SAMPLE_STEP, "hs": v})
        yr += 1
gray_df = pd.DataFrame(rows)

fig = plt.figure(figsize=(12, 9), dpi=100)
ax = fig.add_axes([0.13, 0.1344, 0.774, 0.79])

sns.lineplot(data=gray_df, x="day", y="hs", units="year", estimator=None,
             color=GRAY, linewidth=1.5, ax=ax, legend=False)
sns.lineplot(x=mean_day, y=mean_hs, color="black", linewidth=3.6, ax=ax,
             estimator=None, sort=False)
sns.lineplot(x=now_day, y=now_hs, color="red", linewidth=4.0, ax=ax,
             estimator=None, sort=False)
ax.plot(max_day, max_hs, marker="D", markersize=9.5, markerfacecolor="white",
        markeredgecolor="#00ee00", markeredgewidth=2.6, linestyle="none",
        clip_on=False, zorder=5)

ax.set_xlim(0, 365)
ax.set_ylim(0, 25)
ax.set_xticks(month_start)
ax.set_xticklabels(month_labels)
ax.set_yticks([0, 5, 10, 15, 20, 25])
ax.tick_params(direction="in", length=10, width=1, top=True, right=True,
               labelsize=29, pad=14)
for s in ax.spines.values():
    s.set_color("black")
    s.set_linewidth(1)
    s.set_visible(True)

ax.set_xlabel("Time", fontsize=33, labelpad=4)
ax.set_ylabel("Significant Wave Height (ft)", fontsize=33, labelpad=6)
ax.set_title("Point Reyes CDIP Buoy data", fontsize=33, pad=12)

plt.savefig("out.png", dpi=100, facecolor="white")
plt.close()
